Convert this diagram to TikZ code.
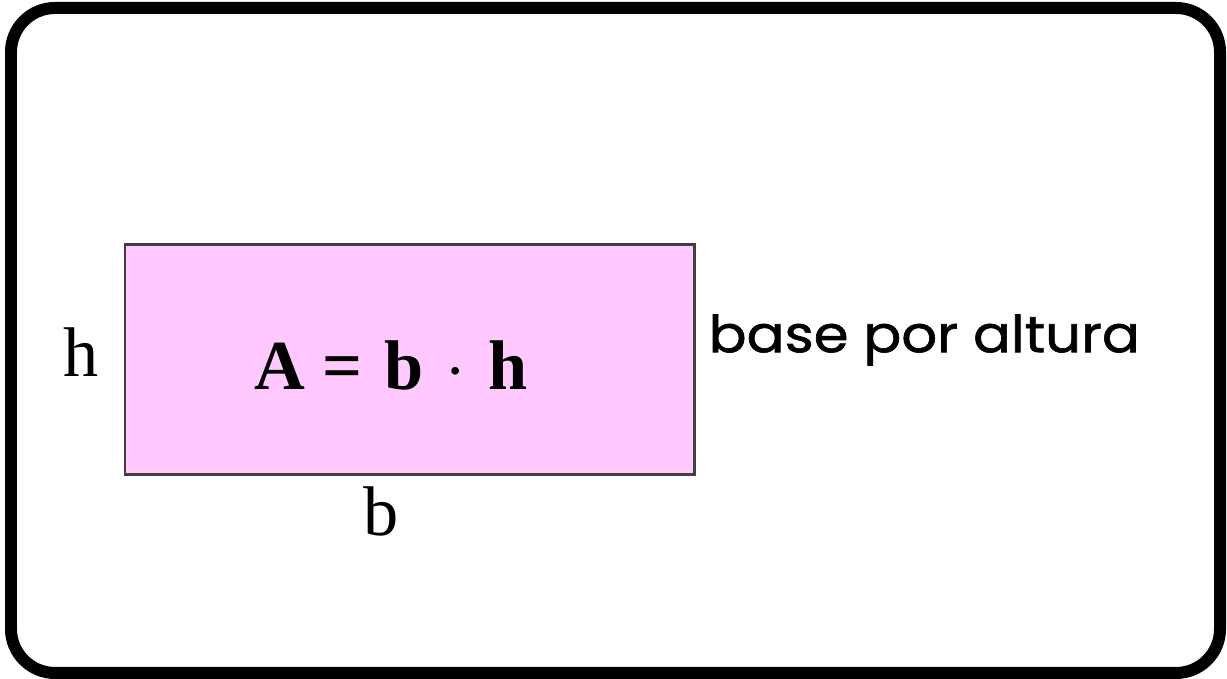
\documentclass[tikz,border=0pt]{standalone}
\usepackage{fontspec}
\setmainfont{Liberation Serif}
\newfontfamily\captionfont{Poppins}[FakeStretch=1.10,FakeBold=1.2]
\usepackage{xcolor}
\usetikzlibrary{calc, positioning}

\definecolor{areapink}{RGB}{255,200,255}
\definecolor{edgegray}{RGB}{64,64,64}

\begin{document}
\begin{tikzpicture}
\useasboundingbox (0,0) rectangle (12.27,6.79);

% Rounded frame round the whole card
\draw[line width=0.12cm,black,rounded corners=0.44cm] (0.11,0.06) rectangle (12.20,6.71);

% The rectangle and its area formula
\node[draw=edgegray,line width=0.85pt,fill=areapink,minimum width=5.69cm,minimum height=2.30cm,
      inner sep=0pt] (rect) at (4.095,3.19) {};
\node[font=\fontsize{20}{24}\selectfont\bfseries] (formula) at (3.91,3.14)
    {A = \hspace{0.05em}b\hspace{0.07em} $\cdot$\hspace{0.07em} h};

% Side labels
\node[font=\fontsize{20}{24}\selectfont,left=0.12cm of rect,yshift=0.08cm] (hlabel) {h};
\node[font=\fontsize{20}{24}\selectfont,below=-0.02cm of rect,xshift=-0.28cm] (blabel) {b};

% Caption in words
\node[font=\captionfont\fontsize{14.5}{18}\selectfont,anchor=west,inner sep=0pt] (caption) at (7.08,3.39) {base por altura};
\end{tikzpicture}
\end{document}
